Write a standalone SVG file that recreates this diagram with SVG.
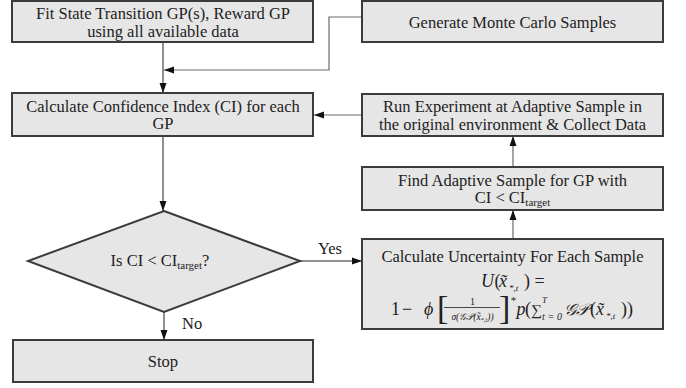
<svg xmlns="http://www.w3.org/2000/svg" width="686" height="388" viewBox="0 0 686 388">
<style>
.box{fill:#e7e6e6;stroke:#3b3b3b;stroke-width:2}
.t{font-family:"Liberation Serif","Tinos","Times New Roman","DejaVu Serif",serif;font-size:16.5px;fill:#222;text-anchor:middle}
.m{font-family:"Liberation Serif","Tinos","Times New Roman","DejaVu Serif",serif;fill:#222}
.i{font-style:italic}
.c{fill:none;stroke:#222;stroke-width:1}
.g{fill:none;stroke:#6a6a6a;stroke-width:1.2}
.lbl{font-family:"Liberation Serif","Tinos","Times New Roman","DejaVu Serif",serif;font-size:16.5px;fill:#222}
</style>
<defs>
<marker id="ah" markerUnits="userSpaceOnUse" markerWidth="10" markerHeight="10" viewBox="0 0 10 10" refX="10" refY="5" orient="auto">
<path d="M0,1.5 L10,5 L0,8.5 Z" fill="#111"/>
</marker>
</defs>
<g id="connectors">
<path class="c" d="M163,43 V93" marker-end="url(#ah)"/>
<path class="g" d="M362,17 H329 V70 H164" marker-end="url(#ah)"/>
<path class="g" d="M362,115 H314" marker-end="url(#ah)"/>
<path class="c" d="M163,136 V211" marker-end="url(#ah)"/>
<path class="c" d="M300,261 H362" marker-end="url(#ah)"/>
<path class="c" d="M164,312 V340" marker-end="url(#ah)"/>
<path class="g" d="M513,239 V210" marker-end="url(#ah)"/>
<path class="g" d="M513,167 V136" marker-end="url(#ah)"/>
<text class="lbl" x="318" y="254">Yes</text>
<text class="lbl" x="182" y="329">No</text>
</g>
<g id="fit-gp">
<rect class="box" x="12" y="1" width="301" height="41"/>
<text class="t" x="163" y="19">Fit State Transition GP(s), Reward GP</text>
<text class="t" x="163" y="36.5">using all available data</text>
</g>
<g id="monte-carlo">
<rect class="box" x="362" y="1" width="301" height="41"/>
<text class="t" x="512.5" y="27.5">Generate Monte Carlo Samples</text>
</g>
<g id="calc-ci">
<rect class="box" x="12" y="93" width="301" height="43"/>
<text class="t" x="163" y="111.5">Calculate Confidence Index (CI) for each</text>
<text class="t" x="163" y="129">GP</text>
</g>
<g id="run-experiment">
<rect class="box" x="362" y="94" width="301" height="42"/>
<text class="t" x="512.5" y="112">Run Experiment at Adaptive Sample in</text>
<text class="t" x="512.5" y="129.5">the original environment &amp; Collect Data</text>
</g>
<g id="find-adaptive">
<rect class="box" x="362" y="167" width="301" height="43"/>
<text class="t" x="512.5" y="185.5">Find Adaptive Sample for GP with</text>
<text class="t" x="512.5" y="203">CI &lt; CI<tspan font-size="11" dy="3">target</tspan></text>
</g>
<g id="decision">
<polygon class="box" points="164,211 300,261 164,312 28,261"/>
<text class="t" x="160" y="266">Is CI &lt; CI<tspan font-size="11" dy="3">target</tspan><tspan dy="-3">?</tspan></text>
</g>
<g id="uncertainty">
<rect class="box" x="362" y="239" width="301" height="90"/>
<text class="t" x="512.5" y="262">Calculate Uncertainty For Each Sample</text>
<text class="m" x="481" y="287" font-size="18"><tspan class="i">U</tspan><tspan dx="0.5">(</tspan></text>
<text class="m i" x="499" y="287" font-size="18">x̃<tspan font-size="9" dy="4" dx="2">*,t</tspan></text>
<text class="m" x="524" y="287" font-size="18">) =</text>
<text class="m" x="391" y="315" font-size="18">1</text>
<text class="m" x="402" y="315" font-size="18">−</text>
<text class="m i" x="424" y="315" font-size="18">ϕ</text>
<text class="m" x="437" y="319" font-size="34">[</text>
<text class="m" x="472.5" y="305" font-size="10" text-anchor="middle">1</text>
<line x1="444" y1="307.5" x2="500" y2="307.5" stroke="#222" stroke-width="0.8"/>
<text class="m i" x="472.5" y="319.5" font-size="9.5" text-anchor="middle">σ(𝒢𝒫(x̃<tspan font-size="6.5" dy="2">*,t</tspan><tspan dy="-2">))</tspan></text>
<text class="m" x="499" y="319" font-size="34">]<tspan font-size="11" dx="0.5" dy="-15">*</tspan></text>
<text class="m i" x="516.5" y="315" font-size="18">p</text>
<text class="m" x="525" y="315" font-size="18">(</text>
<text class="m" x="531" y="315" font-size="15">∑</text>
<text class="m i" x="542" y="303" font-size="9">T</text>
<text class="m i" x="542" y="320" font-size="10" textLength="20" lengthAdjust="spacing">t=0</text>
<text class="m i" x="564" y="315" font-size="16" textLength="25" lengthAdjust="spacingAndGlyphs">𝒢𝒫</text>
<text class="m" x="590" y="315" font-size="18">(</text>
<text class="m i" x="596" y="315" font-size="18">x̃<tspan font-size="9" dy="4" dx="2">*,t</tspan></text>
<text class="m" x="621" y="315" font-size="18">))</text>
</g>
<g id="stop">
<rect class="box" x="13" y="340" width="300" height="42"/>
<text class="t" x="163" y="367">Stop</text>
</g>
</svg>
